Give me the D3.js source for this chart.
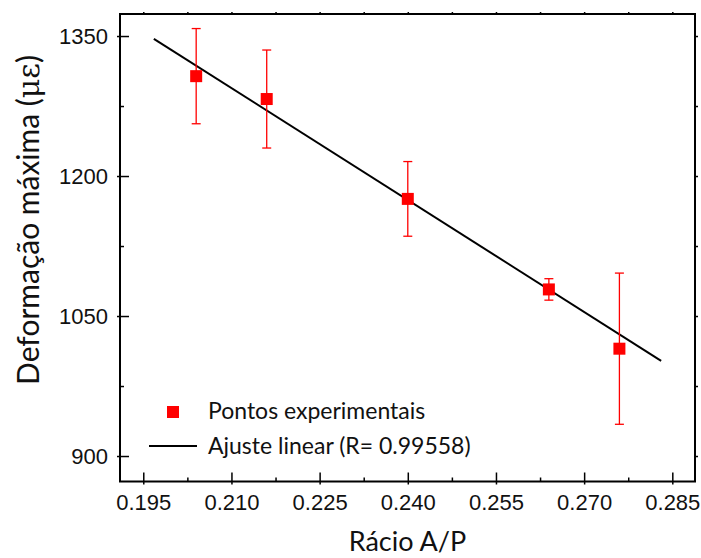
<!DOCTYPE html>
<html>
<head>
<meta charset="utf-8">
<script src="https://cdn.jsdelivr.net/npm/d3@7"></script>
<style>
  html, body { margin: 0; padding: 0; background: #fff; }
  svg { display: block; font-family: Lato, "Open Sans", sans-serif; }
</style>
</head>
<body>
<svg id="chart" width="701" height="558"></svg>
<script>
// Experimental points: A/P ratio vs. maximum strain (με), with error bars
const ratio = [0.204, 0.216, 0.240, 0.264, 0.276];
const strain = [1307, 1282.5, 1175.5, 1078.5, 1015];
const strainErr = [51, 52.5, 40, 11.5, 81];

// Linear fit segment end points
const fitRatio = [0.1968, 0.2831];
const fitStrain = [1347, 1002];

const xTicks = [0.195, 0.210, 0.225, 0.240, 0.255, 0.270, 0.285];
const xMinor = [0.2025, 0.2175, 0.2325, 0.2475, 0.2625, 0.2775];
const yTicks = [900, 1050, 1200, 1350];
const yMinor = [975, 1125, 1275];

const legendLabels = ["Pontos experimentais", "Ajuste linear (R= 0.99558)"];

const svg = d3.select("#chart");
const plotL = 120, plotR = 695, plotT = 14, plotB = 481.5;

const x = d3.scaleLinear().domain([0.19104, 0.28886]).range([plotL, plotR]);
const y = d3.scaleLinear().domain([872.7, 1373.6]).range([plotB, plotT]);

const tickFont = 22;

// Bottom axis
const gx = svg.append("g").attr("transform", `translate(0,${plotB})`)
  .call(d3.axisBottom(x).tickValues(xTicks).tickFormat(d3.format(".3f")).tickSizeInner(-9).tickSizeOuter(0).tickPadding(13));
gx.selectAll(".tick line").attr("stroke-width", 1.5).attr("y1", 3);
gx.selectAll(".tick text").attr("font-size", tickFont).attr("fill", "#111");
gx.select(".domain").remove();
svg.append("g").attr("transform", `translate(0,${plotB})`)
  .call(d3.axisBottom(x).tickValues(xMinor).tickFormat("").tickSizeInner(-4).tickSizeOuter(0))
  .call(g => g.select(".domain").remove())
  .selectAll(".tick line").attr("stroke-width", 1.5);

// Top axis (ticks only)
svg.append("g").attr("transform", `translate(0,${plotT})`)
  .call(d3.axisTop(x).tickValues(xTicks.concat(xMinor)).tickFormat("").tickSizeInner(2).tickSizeOuter(0))
  .call(g => g.select(".domain").remove())
  .selectAll(".tick line").attr("stroke-width", 1.5);

// Left axis
const gy = svg.append("g").attr("transform", `translate(${plotL},0)`)
  .call(d3.axisLeft(y).tickValues(yTicks).tickFormat(d3.format("d")).tickSizeInner(-9).tickSizeOuter(0).tickPadding(12));
gy.selectAll(".tick line").attr("stroke-width", 1.5).attr("x1", -3);
gy.selectAll(".tick text").attr("font-size", tickFont).attr("fill", "#111");
gy.select(".domain").remove();
svg.append("g").attr("transform", `translate(${plotL},0)`)
  .call(d3.axisLeft(y).tickValues(yMinor).tickFormat("").tickSizeInner(-4).tickSizeOuter(0))
  .call(g => g.select(".domain").remove())
  .selectAll(".tick line").attr("stroke-width", 1.5);

// Right axis (ticks only)
svg.append("g").attr("transform", `translate(${plotR},0)`)
  .call(d3.axisRight(y).tickValues(yTicks.concat(yMinor)).tickFormat("").tickSizeInner(3).tickSizeOuter(0))
  .call(g => g.select(".domain").remove())
  .selectAll(".tick line").attr("stroke-width", 1.5);

// Frame
svg.append("rect")
  .attr("x", plotL).attr("y", plotT)
  .attr("width", plotR - plotL).attr("height", plotB - plotT)
  .attr("fill", "none").attr("stroke", "#000").attr("stroke-width", 2);

// Linear fit
const line = d3.line().x(d => x(d[0])).y(d => y(d[1]));
svg.append("path")
  .datum(d3.zip(fitRatio, fitStrain))
  .attr("d", line)
  .attr("fill", "none").attr("stroke", "#000").attr("stroke-width", 2);

// Error bars
const pts = d3.range(ratio.length).map(i => ({ x: ratio[i], y: strain[i], e: strainErr[i] }));
const eb = svg.append("g").attr("stroke", "#ff0000").attr("stroke-width", 1.3);
pts.forEach(p => {
  const cx = x(p.x);
  eb.append("line").attr("x1", cx).attr("x2", cx).attr("y1", y(p.y + p.e)).attr("y2", y(p.y - p.e));
  eb.append("line").attr("x1", cx - 4.5).attr("x2", cx + 4.5).attr("y1", y(p.y + p.e)).attr("y2", y(p.y + p.e));
  eb.append("line").attr("x1", cx - 4.5).attr("x2", cx + 4.5).attr("y1", y(p.y - p.e)).attr("y2", y(p.y - p.e));
});

// Markers
const sq = 12;
svg.append("g").selectAll("rect").data(pts).join("rect")
  .attr("x", d => x(d.x) - sq / 2).attr("y", d => y(d.y) - sq / 2)
  .attr("width", sq).attr("height", sq).attr("fill", "#ff0000");

// Legend
const lg = svg.append("g");
lg.append("rect").attr("x", 167).attr("y", 406).attr("width", 12).attr("height", 12).attr("fill", "#ff0000");
lg.append("line").attr("x1", 149).attr("x2", 197).attr("y1", 446).attr("y2", 446)
  .attr("stroke", "#000").attr("stroke-width", 2);
lg.append("text").attr("x", 208).attr("y", 419).attr("font-size", 23).attr("fill", "#111").text(legendLabels[0]);
lg.append("text").attr("x", 208).attr("y", 453.5).attr("font-size", 23).attr("fill", "#111").text(legendLabels[1]);

// Axis titles
svg.append("text").attr("x", (plotL + plotR) / 2).attr("y", 551)
  .attr("text-anchor", "middle").attr("font-size", 27).attr("fill", "#111").text("Rácio A/P");
const yt = svg.append("text")
  .attr("transform", `translate(39,220) rotate(-90)`)
  .attr("text-anchor", "middle").attr("font-size", 30).attr("fill", "#111");
yt.append("tspan").text("Deformação máxima (");
yt.append("tspan").attr("font-family", "'DejaVu Serif', serif").text("με");
yt.append("tspan").text(")");
</script>
</body>
</html>
